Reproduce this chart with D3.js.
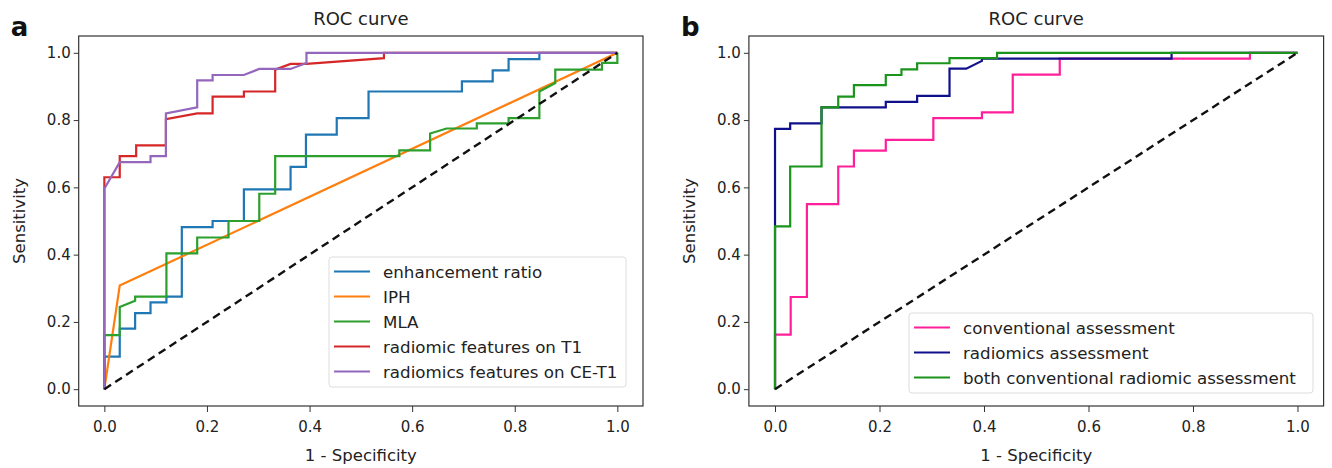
<!DOCTYPE html>
<html>
<head>
<meta charset="utf-8">
<script src="https://cdn.jsdelivr.net/npm/d3@7"></script>
<style>
  body { margin: 0; background: #fff; }
  text { font-family: "DejaVu Sans", sans-serif; }
</style>
</head>
<body>
<script>
// panel a: [1 - specificity, sensitivity]
var enhancementRatio = [[0,0],[0,0.097],[0.03,0.097],[0.03,0.18],[0.06,0.18],[0.06,0.226],[0.09,0.226],[0.09,0.258],[0.121,0.258],[0.121,0.275],[0.151,0.275],[0.151,0.482],[0.211,0.482],[0.211,0.5],[0.272,0.5],[0.272,0.594],[0.363,0.594],[0.363,0.661],[0.393,0.661],[0.393,0.757],[0.453,0.757],[0.453,0.806],[0.515,0.806],[0.515,0.885],[0.697,0.885],[0.697,0.915],[0.757,0.915],[0.757,0.948],[0.788,0.948],[0.788,0.981],[0.848,0.981],[0.848,1],[1,1]];
var iph = [[0,0],[0.03,0.308],[1,1]];
var mla = [[0,0],[0,0.161],[0.03,0.161],[0.03,0.244],[0.06,0.263],[0.06,0.275],[0.121,0.275],[0.121,0.404],[0.181,0.404],[0.181,0.451],[0.242,0.451],[0.242,0.5],[0.302,0.5],[0.302,0.581],[0.333,0.581],[0.333,0.693],[0.575,0.693],[0.575,0.71],[0.635,0.71],[0.635,0.76],[0.667,0.775],[0.726,0.775],[0.726,0.79],[0.788,0.79],[0.788,0.806],[0.848,0.806],[0.848,0.885],[0.879,0.91],[0.879,0.95],[0.97,0.95],[0.97,0.97],[1,0.97],[1,1]];
var radiomicT1 = [[0,0],[0,0.63],[0.03,0.63],[0.03,0.693],[0.062,0.693],[0.062,0.725],[0.12,0.725],[0.12,0.803],[0.181,0.82],[0.211,0.82],[0.211,0.87],[0.272,0.87],[0.272,0.885],[0.333,0.885],[0.333,0.95],[0.363,0.967],[0.394,0.967],[0.545,0.984],[0.545,1],[1,1]];
var radiomicsCET1 = [[0,0],[0,0.596],[0.03,0.675],[0.09,0.675],[0.09,0.693],[0.12,0.693],[0.12,0.82],[0.181,0.838],[0.181,0.918],[0.211,0.918],[0.211,0.934],[0.272,0.934],[0.302,0.952],[0.363,0.952],[0.394,0.97],[0.394,1],[1,1]];

// panel b
var conventional = [[0,0],[0,0.162],[0.03,0.162],[0.03,0.274],[0.061,0.274],[0.061,0.55],[0.121,0.55],[0.121,0.662],[0.151,0.662],[0.151,0.709],[0.212,0.709],[0.212,0.741],[0.303,0.741],[0.303,0.806],[0.396,0.806],[0.396,0.823],[0.455,0.823],[0.455,0.935],[0.545,0.935],[0.545,0.983],[0.909,0.983],[0.909,1],[1,1]];
var radiomics = [[0,0],[0,0.774],[0.029,0.774],[0.029,0.79],[0.089,0.79],[0.089,0.838],[0.212,0.838],[0.212,0.854],[0.272,0.854],[0.272,0.872],[0.334,0.872],[0.334,0.953],[0.366,0.953],[0.396,0.976],[0.396,0.983],[0.759,0.983],[0.759,1],[1,1]];
var both = [[0,0],[0,0.484],[0.029,0.484],[0.029,0.662],[0.089,0.662],[0.089,0.838],[0.121,0.838],[0.121,0.87],[0.151,0.87],[0.151,0.904],[0.212,0.904],[0.212,0.934],[0.242,0.934],[0.242,0.951],[0.272,0.951],[0.272,0.969],[0.334,0.969],[0.334,0.984],[0.425,0.984],[0.425,1],[1,1]];

var chance = [[0,0],[1,1]];
var ticks = [0, 0.2, 0.4, 0.6, 0.8, 1.0];

var W = 1332, H = 468;
var svg = d3.select('body').append('svg')
  .attr('width', W)
  .attr('height', H);

function panel(opts) {
  var x = d3.scaleLinear().domain([-0.05, 1.05]).range([opts.left, opts.right]);
  var y = d3.scaleLinear().domain([-0.05, 1.05]).range([406, 36]);
  var g = svg.append('g');

  var line = d3.line().x(d => x(d[0])).y(d => y(d[1]));

  opts.series.forEach(s => {
    g.append('path')
      .attr('d', line(s.data))
      .attr('fill', 'none')
      .attr('stroke', s.color)
      .attr('stroke-width', 2.2);
  });

  // chance line
  g.append('path')
    .attr('d', line(chance))
    .attr('fill', 'none')
    .attr('stroke', '#111')
    .attr('stroke-width', 2.4)
    .attr('stroke-dasharray', '8,5');

  var xAxis = d3.axisBottom(x).tickValues(ticks).tickFormat(d3.format('.1f')).tickSize(6).tickPadding(9);
  var yAxis = d3.axisLeft(y).tickValues(ticks).tickFormat(d3.format('.1f')).tickSize(5).tickPadding(3);

  var gx = g.append('g').attr('transform', 'translate(0,406)').call(xAxis);
  var gy = g.append('g').attr('transform', `translate(${opts.left},0)`).call(yAxis);
  [gx, gy].forEach(a => {
    a.select('.domain').remove();
    a.selectAll('line').attr('stroke', '#333');
    a.selectAll('text').attr('fill', '#222').style('font-size', '15px')
      .style('font-family', '"DejaVu Sans", sans-serif');
  });

  // frame
  g.append('rect')
    .attr('x', opts.left).attr('y', 36)
    .attr('width', opts.right - opts.left).attr('height', 370)
    .attr('fill', 'none').attr('stroke', '#333').attr('stroke-width', 1.2);

  var cx = (opts.left + opts.right) / 2;
  g.append('text').attr('x', cx).attr('y', 25)
    .attr('text-anchor', 'middle').style('font-size', '18px').attr('fill', '#222')
    .text('ROC curve');
  g.append('text').attr('x', cx).attr('y', 461)
    .attr('text-anchor', 'middle').style('font-size', '16.5px').attr('fill', '#222')
    .text('1 - Specificity');
  g.append('text')
    .attr('transform', `translate(${opts.left - 54},221)rotate(-90)`)
    .attr('text-anchor', 'middle').style('font-size', '16.5px').attr('fill', '#222')
    .text('Sensitivity');
  g.append('text').attr('x', opts.left - 68).attr('y', 36)
    .style('font-size', '26px').style('font-weight', 'bold').attr('fill', '#111')
    .text(opts.label);

  // legend
  var lg = g.append('g').attr('transform', `translate(${opts.legend.x},${opts.legend.y})`);
  lg.append('rect')
    .attr('width', opts.legend.w).attr('height', opts.series.length * 25 + 5)
    .attr('rx', 3)
    .attr('fill', '#fff').attr('fill-opacity', 0.85)
    .attr('stroke', '#ddd');
  opts.series.forEach((s, i) => {
    var ry = 14.5 + i * 25;
    lg.append('line').attr('x1', 5).attr('x2', 41).attr('y1', ry).attr('y2', ry)
      .attr('stroke', s.color).attr('stroke-width', 2.2);
    lg.append('text').attr('x', 54).attr('y', ry + 6)
      .style('font-size', '16.7px').attr('fill', '#222')
      .text(s.name);
  });
}

panel({
  left: 78.7, right: 643, label: 'a',
  legend: {x: 329, y: 257, w: 297},
  series: [
    {name: 'enhancement ratio', data: enhancementRatio, color: '#1f77b4'},
    {name: 'IPH', data: iph, color: '#ff7f0e'},
    {name: 'MLA', data: mla, color: '#2ca02c'},
    {name: 'radiomic features on T1', data: radiomicT1, color: '#d62728'},
    {name: 'radiomics features on CE-T1', data: radiomicsCET1, color: '#9467bd'}
  ]
});

panel({
  left: 748.9, right: 1323.6, label: 'b',
  legend: {x: 909, y: 313, w: 404},
  series: [
    {name: 'conventional assessment', data: conventional, color: '#ff1f9a'},
    {name: 'radiomics assessment', data: radiomics, color: '#10108c'},
    {name: 'both conventional radiomic assessment', data: both, color: '#1a941a'}
  ]
});
</script>
</body>
</html>
